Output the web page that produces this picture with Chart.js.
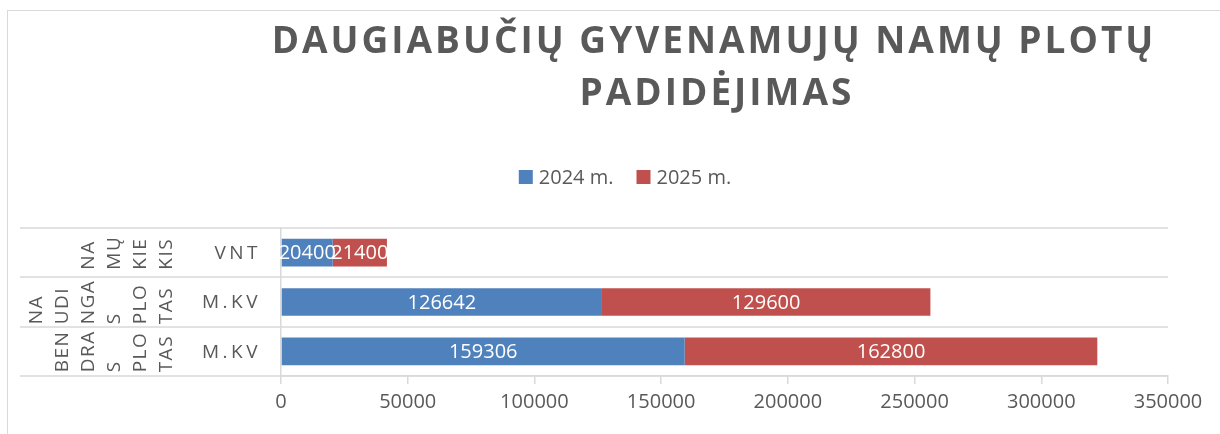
<!DOCTYPE html>
<html>
<head>
<meta charset="utf-8">
<script src="https://cdn.jsdelivr.net/npm/chart.js@4"></script>
<style>
  html, body { margin: 0; padding: 0; background: #fff; }
  #wrap { width: 1220px; height: 434px; position: relative; }
</style>
</head>
<body>
<div id="wrap"><canvas id="chartPlotai"></canvas></div>
<script>
const titleLines = ['DAUGIABUČIŲ GYVENAMUJŲ NAMŲ PLOTŲ', 'PADIDĖJIMAS'];
const categories = ['VNT', 'M.KV', 'M.KV'];
const groupLabels = [
  ['NA', 'MŲ', 'KIE', 'KIS'],
  ['NA', 'UDI', 'NGA', 'S', 'PLO', 'TAS'],
  ['BEN', 'DRA', 'S', 'PLO', 'TAS']
];
const seriesNames = ['2024 m.', '2025 m.'];
const values2024 = [20400, 126642, 159306];
const values2025 = [21400, 129600, 162800];
const xTicks = [0, 50000, 100000, 150000, 200000, 250000, 300000, 350000];

const FONT = '"Open Sans", sans-serif';
const GREY = '#595959';
const LINE = '#d9d9d9';

document.addEventListener('DOMContentLoaded', function () {

  // remelis, pavadinimas, legenda, kategoriju uzrasai
  const decor = {
    id: 'decor',
    beforeDraw(chart) {
      const ctx = chart.ctx;
      ctx.save();
      ctx.strokeStyle = LINE;
      ctx.lineWidth = 1;
      ctx.strokeRect(7.5, 10.5, 1400, 600);
      ctx.restore();
    },
    beforeDatasetsDraw(chart) {
      const ctx = chart.ctx, ys = chart.scales.y, area = chart.chartArea;
      const step = ys.getPixelForValue(1) - ys.getPixelForValue(0);
      ctx.save();
      ctx.strokeStyle = LINE;
      ctx.lineWidth = 1.5;
      for (let i = 0; i <= categories.length; i++) {
        const y = Math.round(ys.getPixelForValue(i) - step / 2);
        ctx.beginPath();
        ctx.moveTo(20, y);
        ctx.lineTo(area.right, y);
        ctx.stroke();
      }
      ctx.restore();
    },
    afterDatasetsDraw(chart) {
      const ctx = chart.ctx;
      ctx.save();
      ctx.fillStyle = '#fff';
      ctx.font = '20px ' + FONT;
      ctx.textAlign = 'center';
      ctx.textBaseline = 'middle';
      chart.data.datasets.forEach((ds, di) => {
        chart.getDatasetMeta(di).data.forEach((bar, i) => {
          const p = bar.getProps(['x', 'base', 'y'], true);
          ctx.fillText(String(ds.data[i]), (p.x + p.base) / 2, p.y + 1);
        });
      });
      ctx.restore();
    },
    afterDraw(chart) {
      const ctx = chart.ctx, ys = chart.scales.y;
      ctx.save();
      ctx.fillStyle = GREY;

      // pavadinimas
      ctx.font = 'bold 37px ' + FONT;
      ctx.letterSpacing = '3px';
      ctx.textAlign = 'center';
      ctx.textBaseline = 'middle';
      ctx.fillText(titleLines[0], 714, 42);
      ctx.fillText(titleLines[1], 717, 94);

      // legenda
      ctx.letterSpacing = '0px';
      ctx.font = '20px ' + FONT;
      ctx.textAlign = 'left';
      const colors = chart.data.datasets.map(d => d.backgroundColor);
      const widths = seriesNames.map(s => ctx.measureText(s).width);
      const total = widths.reduce((a, w) => a + 14 + 6 + w, 0) + 23 * (seriesNames.length - 1);
      let lx = 625 - total / 2;
      seriesNames.forEach((s, i) => {
        ctx.fillStyle = colors[i];
        ctx.fillRect(lx, 170, 14, 14);
        ctx.fillStyle = GREY;
        ctx.fillText(s, lx + 20, 178);
        lx += 14 + 6 + widths[i] + 23;
      });

      // vidiniai kategoriju uzrasai
      ctx.font = '19px ' + FONT;
      ctx.letterSpacing = '3.5px';
      ctx.textAlign = 'right';
      categories.forEach((c, i) => {
        ctx.fillText(c, 261, ys.getPixelForValue(i) + 1);
      });

      // isoriniai (pasukti) uzrasai
      ctx.font = '19px ' + FONT;
      ctx.letterSpacing = '1.5px';
      ctx.textAlign = 'left';
      groupLabels.forEach((lines, i) => {
        const cy = ys.getPixelForValue(i);
        const maxW = Math.max(...lines.map(l => ctx.measureText(l).width));
        lines.forEach((l, j) => {
          const x = 167 - (lines.length - 1 - j) * 26;
          ctx.save();
          ctx.translate(x, cy + maxW / 2);
          ctx.rotate(-Math.PI / 2);
          ctx.fillText(l, 0, 0);
          ctx.restore();
        });
      });
      ctx.restore();
    }
  };

  const ctx1 = document.getElementById('chartPlotai').getContext('2d');
  new Chart(ctx1, {
    type: 'bar',
    data: {
      labels: categories,
      datasets: [
        { label: seriesNames[0], data: values2024, backgroundColor: '#4f81bd', borderWidth: 0,
          barPercentage: 0.56, categoryPercentage: 1 },
        { label: seriesNames[1], data: values2025, backgroundColor: '#c0504d', borderWidth: 0,
          barPercentage: 0.56, categoryPercentage: 1 }
      ]
    },
    options: {
      indexAxis: 'y',
      responsive: true,
      maintainAspectRatio: false,
      animation: false,
      layout: { padding: { top: 228, right: 52, left: 0, bottom: 0 } },
      plugins: { legend: { display: false }, title: { display: false }, tooltip: { enabled: false } },
      scales: {
        x: {
          stacked: true,
          min: 0,
          max: 350000,
          afterBuildTicks: s => { s.ticks = xTicks.map(v => ({ value: v })); },
          afterFit: s => { s.height = 58; },
          grid: { drawOnChartArea: false, drawTicks: true, tickLength: 8, color: LINE, lineWidth: 1.5 },
          border: { display: true, color: LINE, width: 1.5 },
          ticks: { color: GREY, font: { family: FONT, size: 20 }, padding: 6, maxRotation: 0, autoSkip: false,
                   callback: v => String(v) }
        },
        y: {
          stacked: true,
          afterFit: s => { s.width = 281; },
          grid: { display: false },
          border: { display: true, color: LINE, width: 1.5 },
          ticks: { display: false }
        }
      }
    },
    plugins: [decor]
  });
});
</script>
</body>
</html>
